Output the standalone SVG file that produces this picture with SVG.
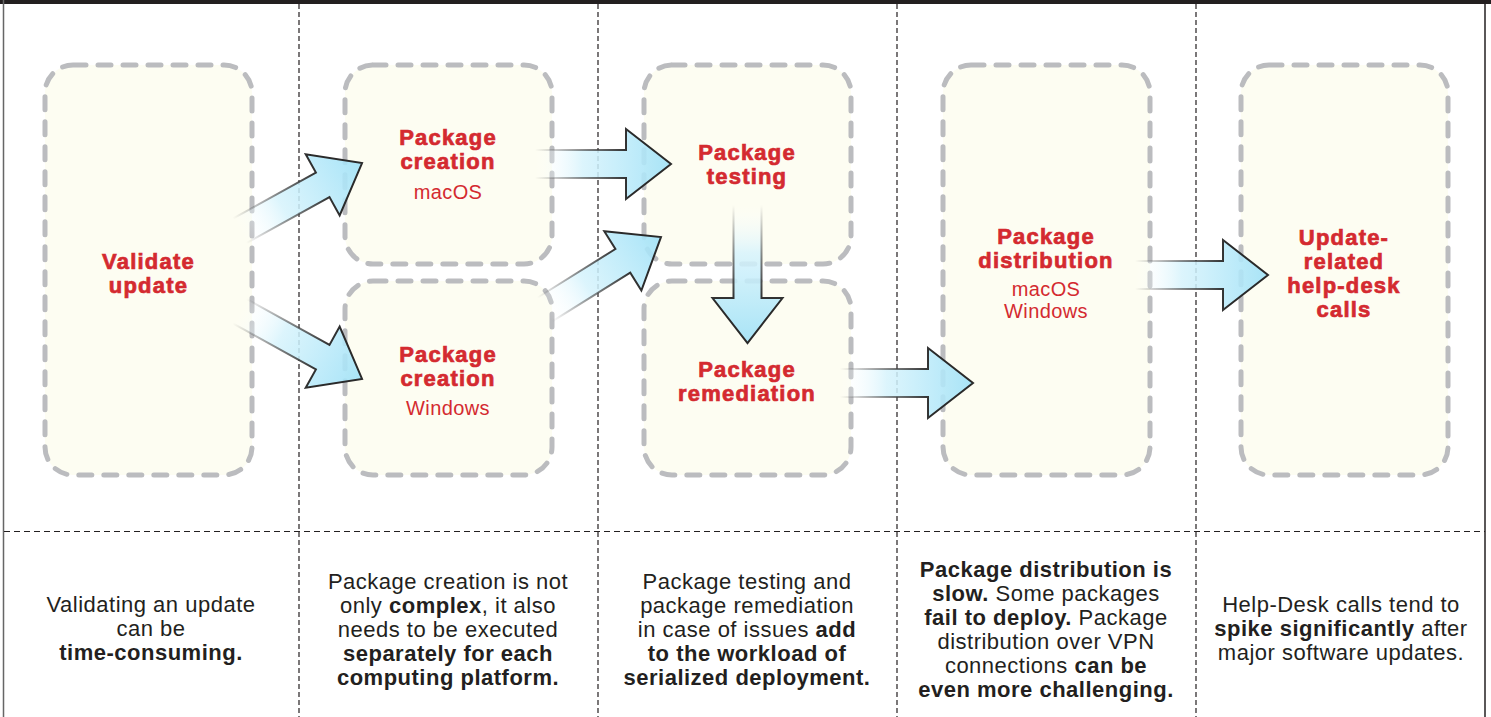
<svg xmlns="http://www.w3.org/2000/svg" width="1491" height="717" viewBox="0 0 1491 717">
<style>
.sep{stroke:#231f20;stroke-width:1.2;stroke-dasharray:5 3;fill:none}
.box{fill:#fdfdf2;stroke:#bbbcbf;stroke-width:5;stroke-dasharray:13 12;stroke-linecap:round}
.lbl{font-family:"Liberation Sans",Arial,sans-serif;font-weight:bold;font-size:22px;fill:#d42a30;stroke:#d42a30;stroke-width:0.7;text-anchor:middle;letter-spacing:1.2px}
.sub{font-family:"Liberation Sans",Arial,sans-serif;font-size:20px;fill:#d42a30;text-anchor:middle;letter-spacing:0.4px}
.note{font-family:"Liberation Sans",Arial,sans-serif;font-size:22px;fill:#231f20;text-anchor:middle;letter-spacing:0.5px}
.b{font-weight:bold}
.arrow{fill:url(#af);stroke:url(#as);stroke-width:2;stroke-linejoin:miter}
</style>
<defs>
<linearGradient id="af" x1="0" y1="0" x2="1" y2="0">
<stop offset="0" stop-color="#ffffff" stop-opacity="0"/>
<stop offset="0.35" stop-color="#d6f3fc" stop-opacity="0.85"/>
<stop offset="1" stop-color="#9fe1f7" stop-opacity="0.9"/>
</linearGradient>
<linearGradient id="as" x1="0" y1="0" x2="1" y2="0">
<stop offset="0" stop-color="#333333" stop-opacity="0"/>
<stop offset="0.4" stop-color="#444444" stop-opacity="0.7"/>
<stop offset="0.7" stop-color="#2a2a2a" stop-opacity="1"/>
</linearGradient>
</defs>
<rect x="0" y="0" width="1491" height="717" fill="#ffffff"/>
<g id="frame">
<rect x="0" y="0" width="1491" height="4" fill="#231f20"/>
<line x1="3.5" y1="0" x2="3.5" y2="717" stroke="#666666" stroke-width="1.5"/>
<line x1="1485" y1="0" x2="1485" y2="717" stroke="#231f20" stroke-width="1.5"/>
<line class="sep" x1="299" y1="4" x2="299" y2="717"/>
<line class="sep" x1="598" y1="4" x2="598" y2="717"/>
<line class="sep" x1="897" y1="4" x2="897" y2="717"/>
<line class="sep" x1="1196" y1="4" x2="1196" y2="717"/>
<line class="sep" x1="4" y1="531.5" x2="1485" y2="531.5" style="stroke-dasharray:6 4"/>
</g>
<g id="validate">
<rect class="box" x="45" y="65" width="207" height="410" rx="28"/>
<text class="lbl"><tspan x="148.5" y="268.5">Validate</tspan><tspan x="148.5" y="292.5">update</tspan></text>
</g>
<g id="create-mac">
<rect class="box" x="345" y="65" width="207" height="199" rx="28"/>
<text class="lbl"><tspan x="448" y="145">Package</tspan><tspan x="448" y="169">creation</tspan></text>
<text class="sub" x="448" y="199">macOS</text>
</g>
<g id="create-win">
<rect class="box" x="345" y="281" width="207" height="194" rx="28"/>
<text class="lbl"><tspan x="448" y="362">Package</tspan><tspan x="448" y="386">creation</tspan></text>
<text class="sub" x="448" y="415">Windows</text>
</g>
<g id="testing">
<rect class="box" x="644" y="65" width="207" height="199" rx="28"/>
<text class="lbl"><tspan x="747" y="160">Package</tspan><tspan x="747" y="184">testing</tspan></text>
</g>
<g id="remediation">
<rect class="box" x="644" y="281" width="207" height="194" rx="28"/>
<text class="lbl"><tspan x="747" y="376.5">Package</tspan><tspan x="747" y="400.5">remediation</tspan></text>
</g>
<g id="distribution">
<rect class="box" x="943" y="65" width="207" height="410" rx="28"/>
<text class="lbl"><tspan x="1046" y="244">Package</tspan><tspan x="1046" y="268">distribution</tspan></text>
<text class="sub"><tspan x="1046" y="296">macOS</tspan><tspan x="1046" y="318">Windows</tspan></text>
</g>
<g id="helpdesk">
<rect class="box" x="1241" y="65" width="207" height="410" rx="28"/>
<text class="lbl"><tspan x="1344" y="244.5">Update-</tspan><tspan x="1344" y="268.5">related</tspan><tspan x="1344" y="292.5">help-desk</tspan><tspan x="1344" y="316.5">calls</tspan></text>
</g>
<g id="connectors">
<path class="arrow" transform="translate(239.6,230.9) rotate(-29)" d="M0,-14 L95,-14 L95,-35 L140,0 L95,35 L95,14 L0,14"/>
<path class="arrow" transform="translate(239.6,311.1) rotate(29)" d="M0,-14 L95,-14 L95,-35 L140,0 L95,35 L95,14 L0,14"/>
<path class="arrow" transform="translate(535,164)" d="M0,-14 L91,-14 L91,-35 L136,0 L91,35 L91,14 L0,14"/>
<path class="arrow" transform="translate(544.8,309.6) rotate(-32)" d="M0,-14 L92,-14 L92,-35 L137,0 L92,35 L92,14 L0,14"/>
<path class="arrow" transform="translate(747.5,205) rotate(90)" d="M0,-14 L93,-14 L93,-35 L138,0 L93,35 L93,14 L0,14"/>
<path class="arrow" transform="translate(840,383)" d="M0,-14 L88,-14 L88,-35 L133,0 L88,35 L88,14 L0,14"/>
<path class="arrow" transform="translate(1135,275)" d="M0,-14 L88,-14 L88,-35 L133,0 L88,35 L88,14 L0,14"/>
</g>
<g id="notes">
<text class="note"><tspan x="151" y="612">Validating an update</tspan><tspan x="151" y="636">can be</tspan><tspan x="151" y="660" class="b">time-consuming.</tspan></text>
<text class="note"><tspan x="448" y="589">Package creation is not</tspan><tspan x="448" y="613">only <tspan class="b">complex</tspan>, it also</tspan><tspan x="448" y="637">needs to be executed</tspan><tspan x="448" y="661" class="b">separately for each</tspan><tspan x="448" y="685" class="b">computing platform.</tspan></text>
<text class="note"><tspan x="747" y="589">Package testing and</tspan><tspan x="747" y="613">package remediation</tspan><tspan x="747" y="637">in case of issues <tspan class="b">add</tspan></tspan><tspan x="747" y="661" class="b">to the workload of</tspan><tspan x="747" y="685" class="b">serialized deployment.</tspan></text>
<text class="note"><tspan x="1046" y="577" class="b">Package distribution is</tspan><tspan x="1046" y="601"><tspan class="b">slow.</tspan> Some packages</tspan><tspan x="1046" y="625"><tspan class="b">fail to deploy.</tspan> Package</tspan><tspan x="1046" y="649">distribution over VPN</tspan><tspan x="1046" y="673">connections <tspan class="b">can be</tspan></tspan><tspan x="1046" y="697" class="b">even more challenging.</tspan></text>
<text class="note"><tspan x="1341" y="612">Help-Desk calls tend to</tspan><tspan x="1341" y="636"><tspan class="b">spike significantly</tspan> after</tspan><tspan x="1341" y="660">major software updates.</tspan></text>
</g>
</svg>
